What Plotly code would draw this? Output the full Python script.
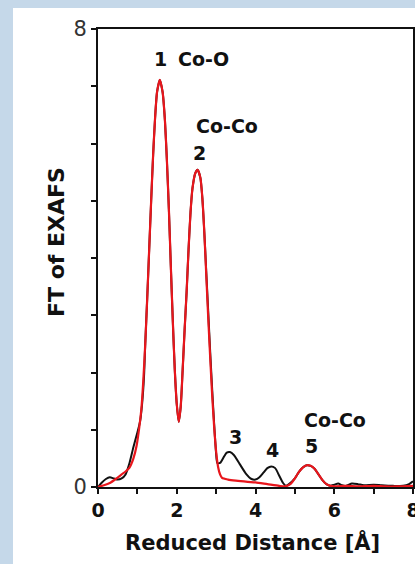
import plotly.graph_objects as go

# ---- data ----
red_x = [0.0, 0.15, 0.3, 0.45, 0.6, 0.7, 0.8, 0.9, 0.98, 1.05, 1.10, 1.15, 1.20, 1.25, 1.30,
         1.35, 1.40, 1.45, 1.50, 1.57, 1.64, 1.70, 1.75, 1.80, 1.85, 1.90, 1.95, 2.00, 2.05,
         2.10, 2.15, 2.20, 2.25, 2.30, 2.35, 2.40, 2.47, 2.53, 2.60, 2.65, 2.70, 2.75, 2.80,
         2.85, 2.90, 2.95, 3.00, 3.05, 3.10, 3.15, 3.3, 3.5, 3.8, 4.0, 4.3, 4.6, 4.75, 4.9,
         5.0, 5.1, 5.2, 5.3, 5.4, 5.5, 5.6, 5.7, 5.8, 5.9, 6.0, 6.3, 6.6, 7.0, 7.3, 7.6, 8.0]
red_y = [0.00, 0.03, 0.07, 0.14, 0.22, 0.27, 0.34, 0.50, 0.72, 1.05, 1.35, 1.85, 2.50, 3.30, 4.15,
         5.00, 5.80, 6.45, 6.90, 7.11, 6.90, 6.40, 5.70, 4.85, 3.85, 2.90, 2.05, 1.45, 1.14,
         1.40, 2.05, 2.75, 3.40, 4.15, 4.80, 5.22, 5.48, 5.54, 5.40, 5.05, 4.45, 3.70, 2.95,
         2.25, 1.60, 1.05, 0.62, 0.35, 0.22, 0.16, 0.13, 0.11, 0.09, 0.08, 0.05, 0.02, 0.01, 0.06,
         0.15, 0.26, 0.34, 0.38, 0.37, 0.32, 0.22, 0.12, 0.05, 0.02, 0.01, 0.02, 0.01, 0.02, 0.01, 0.01, 0.02]

black_x = [0.0, 0.1, 0.2, 0.3, 0.4, 0.5, 0.6, 0.7, 0.8, 0.9, 1.0, 1.07, 1.12, 1.17, 1.20, 1.25,
           1.30, 1.35, 1.40, 1.45, 1.50, 1.57, 1.64, 1.70, 1.75, 1.80, 1.85, 1.90, 1.95, 2.00,
           2.05, 2.10, 2.15, 2.20, 2.25, 2.30, 2.35, 2.40, 2.47, 2.53, 2.60, 2.65, 2.70, 2.75,
           2.80, 2.85, 2.90, 2.95, 3.00, 3.03, 3.10, 3.20, 3.27, 3.35, 3.45, 3.6, 3.75, 3.9,
           4.0, 4.1, 4.2, 4.3, 4.4, 4.5, 4.6, 4.7, 4.77, 4.85, 5.0, 5.1, 5.2, 5.3, 5.4, 5.5,
           5.6, 5.7, 5.8, 5.9, 6.0, 6.1, 6.2, 6.3, 6.45, 6.6, 6.75, 7.0, 7.2, 7.5, 7.75, 7.9, 8.0]
black_y = [0.00, 0.08, 0.14, 0.17, 0.15, 0.13, 0.15, 0.22, 0.42, 0.70, 0.95, 1.15, 1.45, 1.95, 2.50, 3.30,
           4.15, 5.00, 5.80, 6.45, 6.90, 7.11, 6.90, 6.40, 5.70, 4.85, 3.85, 2.90, 2.05, 1.45,
           1.14, 1.40, 2.05, 2.75, 3.40, 4.15, 4.80, 5.22, 5.48, 5.54, 5.40, 5.05, 4.45, 3.75,
           3.05, 2.35, 1.70, 1.10, 0.58, 0.42, 0.42, 0.53, 0.60, 0.61, 0.56, 0.40, 0.24, 0.14,
           0.13, 0.17, 0.25, 0.33, 0.36, 0.33, 0.20, 0.07, 0.02, 0.05, 0.15, 0.26, 0.34, 0.38, 0.37, 0.32,
           0.22, 0.12, 0.05, 0.02, 0.04, 0.06, 0.03, 0.02, 0.06, 0.05, 0.03, 0.04, 0.03, 0.02, 0.02, 0.05, 0.10]

peak_labels = ["1", "Co-O", "Co-Co", "2", "3", "4", "5", "Co-Co"]
peak_label_x = [1.59, 2.68, 3.27, 2.59, 3.48, 4.44, 5.41, 6.03]
peak_label_y = [7.48, 7.48, 6.31, 5.83, 0.87, 0.65, 0.72, 1.17]

x_tickvals = [0, 1, 2, 3, 4, 5, 6, 7, 8]
x_ticktext = ["0", "", "2", "", "4", "", "6", "", "8"]
y_tickvals = [0, 1, 2, 3, 4, 5, 6, 7, 8]
y_ticktext = ["0", "", "", "", "", "", "", "", "8"]

# ---- layout geometry ----
W, H = 415, 564
L, R, T, B = 98, 2, 29, 77
pw, ph = W - L - R, H - T - B

FONT = "DejaVu Sans"

fig = go.Figure()
fig.add_trace(go.Scatter(x=black_x, y=black_y, mode="lines",
                         line=dict(color="#111111", width=2, shape="spline", smoothing=0.6),
                         showlegend=False))
fig.add_trace(go.Scatter(x=red_x, y=red_y, mode="lines",
                         line=dict(color="#e8161c", width=2.2, shape="spline", smoothing=0.6),
                         showlegend=False))

for t, xv, yv in zip(peak_labels, peak_label_x, peak_label_y):
    fig.add_annotation(x=xv, y=yv, text="<b>%s</b>" % t, showarrow=False,
                       xanchor="center", yanchor="middle",
                       font=dict(family=FONT, size=19, color="#111111"))

# axis titles
fig.add_annotation(xref="paper", yref="paper", x=(252 - L) / pw, y=(H - B - 542) / ph,
                   text="<b>Reduced Distance [Å]</b>", showarrow=False,
                   xanchor="center", yanchor="middle",
                   font=dict(family=FONT, size=21, color="#111111"))
fig.add_annotation(xref="paper", yref="paper", x=(56 - L) / pw, y=(H - B - 242) / ph,
                   text="<b>FT of EXAFS</b>", showarrow=False, textangle=-90,
                   xanchor="center", yanchor="middle",
                   font=dict(family=FONT, size=22, color="#111111"))

# white panel over light-blue page
fig.add_shape(type="rect", xref="paper", yref="paper",
              x0=(13 - L) / pw, x1=1.2, y0=-0.5, y1=(H - B - 8) / ph,
              fillcolor="white", line=dict(width=0), layer="below")

fig.update_layout(
    width=W, height=H,
    margin=dict(l=L, r=R, t=T, b=B, autoexpand=False),
    paper_bgcolor="#c5d8e9",
    plot_bgcolor="white",
    showlegend=False,
)
fig.update_xaxes(range=[0, 8], showgrid=False, zeroline=False, automargin=False,
                 showline=True, linecolor="#111111", linewidth=2, mirror=True,
                 ticks="outside", ticklen=5, tickwidth=2, tickcolor="#111111",
                 tickvals=x_tickvals, ticktext=x_ticktext, ticklabeloverflow="allow",
                 tickfont=dict(family=FONT, size=19, color="#111111", weight="bold"))
fig.update_yaxes(range=[0, 8], showgrid=False, zeroline=False, automargin=False,
                 showline=True, linecolor="#111111", linewidth=2, mirror=True,
                 ticks="outside", ticklen=5, tickwidth=2, tickcolor="#111111",
                 tickvals=y_tickvals, ticktext=y_ticktext, ticklabeloverflow="allow",
                 tickfont=dict(family=FONT, size=21, color="#333333"))

fig.write_html("out.html")
